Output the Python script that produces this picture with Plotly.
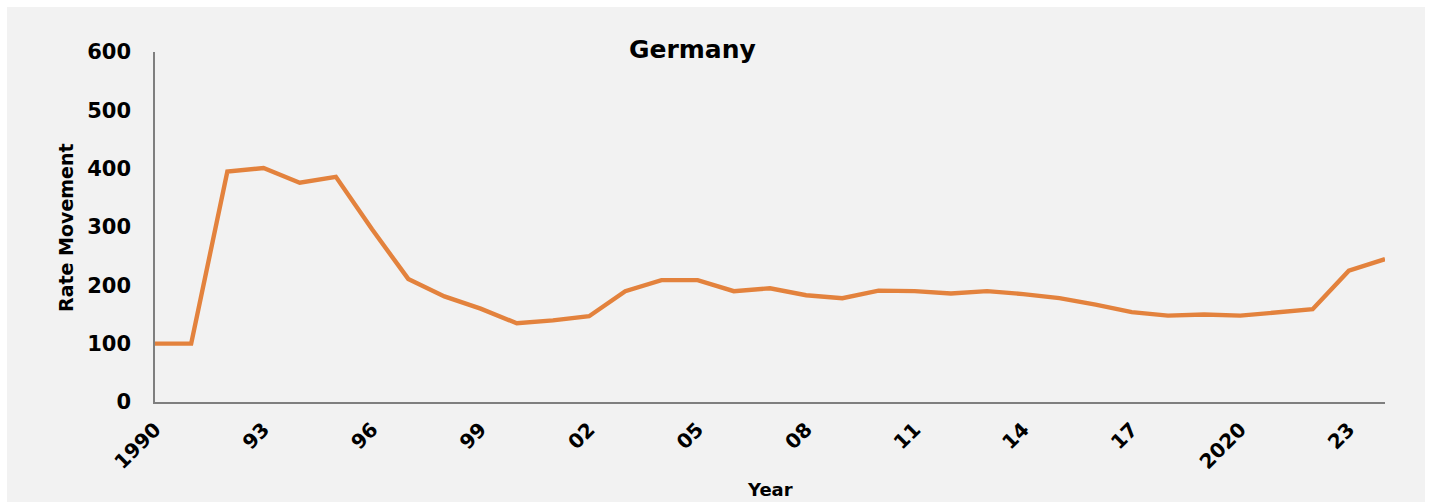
import plotly.graph_objects as go

# Germany rate movement index, 1990-2024
years = list(range(1990, 2025))
rate_movement = [
    100, 100, 395, 401, 376, 386, 296, 211, 181, 160,
    135, 140, 147, 190, 209, 209, 190, 195, 183, 178,
    191, 190, 186, 190, 185, 178, 167, 154, 148, 150,
    148, 154, 159, 225, 245,
]

tick_years = [1990, 1993, 1996, 1999, 2002, 2005, 2008, 2011, 2014, 2017, 2020, 2023]
tick_labels = ["1990", "93", "96", "99", "02", "05", "08", "11", "14", "17", "2020", "23"]
y_ticks = [0, 100, 200, 300, 400, 500, 600]

FONT = "DejaVu Sans"
W, H = 1433, 502
L, R, T, B = 155, 48, 52, 100
pw, ph = W - L - R, H - T - B

def px_x(x):
    return (x - L) / pw

def px_y(y):
    return (H - B - y) / ph

fig = go.Figure()
fig.add_trace(go.Scatter(
    x=years, y=rate_movement, mode="lines",
    line=dict(color="#E3823D", width=4.4),
    hoverinfo="x+y", showlegend=False,
))

fig.update_layout(
    width=W, height=H,
    margin=dict(l=L, r=R, t=T, b=B),
    paper_bgcolor="white",
    plot_bgcolor="rgba(0,0,0,0)",
    font=dict(family=FONT, color="black"),
    shapes=[dict(
        type="rect", xref="paper", yref="paper", layer="below",
        x0=px_x(7), x1=px_x(1425), y0=px_y(502), y1=px_y(7),
        fillcolor="#F2F2F2", line=dict(width=0),
    )],
    annotations=[
        dict(text="<b>Germany</b>", xref="paper", yref="paper",
             x=px_x(692), y=px_y(50), xanchor="center", yanchor="middle",
             showarrow=False, font=dict(size=25, family=FONT)),
        dict(text="<b>Rate Movement</b>", xref="paper", yref="paper",
             x=px_x(66), y=px_y(228), xanchor="center", yanchor="middle",
             textangle=-90, showarrow=False, font=dict(size=19, family=FONT)),
        dict(text="<b>Year</b>", xref="paper", yref="paper",
             x=px_x(770), y=px_y(489), xanchor="center", yanchor="middle",
             showarrow=False, font=dict(size=18, family=FONT)),
    ],
)

fig.update_xaxes(
    range=[1990, 2024], tickvals=tick_years, ticktext=tick_labels,
    tickangle=-45, showgrid=False, zeroline=False,
    showline=True, linecolor="#7F7F7F", linewidth=1.5,
    ticks="outside", ticklen=6, tickcolor="rgba(0,0,0,0)",
    tickfont=dict(size=20, family=FONT, weight="bold"),
)
fig.update_yaxes(
    range=[0, 600], tickvals=y_ticks,
    showgrid=False, zeroline=False,
    showline=True, linecolor="#7F7F7F", linewidth=1.5,
    ticks="outside", ticklen=18, tickcolor="rgba(0,0,0,0)",
    tickfont=dict(size=21, family=FONT, weight="bold"),
)

fig.write_html("out.html")
